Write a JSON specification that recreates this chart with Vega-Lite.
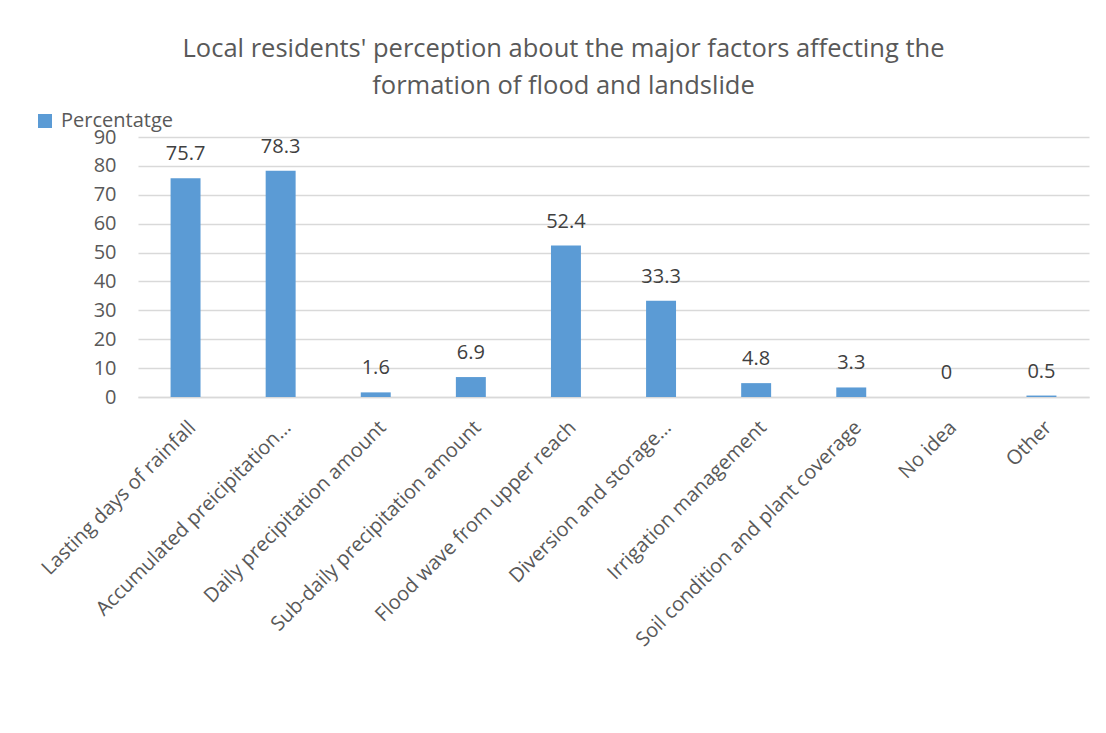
{
  "$schema": "https://vega.github.io/schema/vega-lite/v6.json",
  "autosize": "none",
  "width": 951,
  "height": 260,
  "padding": {"left": 138, "top": 137, "right": 17, "bottom": 336},
  "background": "white",
  "config": {
    "font": "Open Sans",
    "view": {"stroke": null}
  },
  "title": {
    "text": ["Local residents' perception about the major factors affecting the", "formation of flood and landslide"],
    "font": "Open Sans",
    "fontSize": 25.5,
    "fontWeight": "normal",
    "color": "#595959",
    "anchor": "middle",
    "dx": -50,
    "lineHeight": 37,
    "offset": 12
  },
  "data": {
    "values": [
      {"factor": "Lasting days of rainfall", "value": 75.7, "series": "Percentatge"},
      {"factor": "Accumulated preicipitation…", "value": 78.3, "series": "Percentatge"},
      {"factor": "Daily precipitation amount", "value": 1.6, "series": "Percentatge"},
      {"factor": "Sub-daily precipitation amount", "value": 6.9, "series": "Percentatge"},
      {"factor": "Flood wave from upper reach", "value": 52.4, "series": "Percentatge"},
      {"factor": "Diversion and storage…", "value": 33.3, "series": "Percentatge"},
      {"factor": "Irrigation management", "value": 4.8, "series": "Percentatge"},
      {"factor": "Soil condition and plant coverage", "value": 3.3, "series": "Percentatge"},
      {"factor": "No idea", "value": 0, "series": "Percentatge"},
      {"factor": "Other", "value": 0.5, "series": "Percentatge"}
    ]
  },
  "encoding": {
    "x": {
      "field": "factor",
      "type": "nominal",
      "sort": null,
      "scale": {"paddingInner": 0.685, "paddingOuter": 0.3425},
      "axis": {
        "title": null,
        "labelAngle": -45,
        "labelFontSize": 20,
        "labelColor": "#595959",
        "labelPadding": 20,
        "ticks": false,
        "tickSize": 0,
        "domainColor": "#D9D9D9",
        "domainWidth": 1.5,
        "labelLimit": 500
      }
    },
    "y": {
      "field": "value",
      "type": "quantitative",
      "scale": {"domain": [0, 90], "nice": false},
      "axis": {
        "title": null,
        "values": [0, 10, 20, 30, 40, 50, 60, 70, 80, 90],
        "labelFontSize": 20,
        "labelColor": "#595959",
        "labelPadding": 22,
        "ticks": false,
        "tickSize": 0,
        "domain": false,
        "gridColor": "#D9D9D9",
        "gridWidth": 1.5
      }
    }
  },
  "layer": [
    {
      "mark": {"type": "bar", "color": "#5B9BD5"},
      "encoding": {
        "color": {
          "field": "series",
          "type": "nominal",
          "scale": {"range": ["#5B9BD5"]},
          "legend": {
            "title": null,
            "orient": "none",
            "legendX": -103,
            "legendY": -26,
            "symbolType": "square",
            "symbolSize": 196,
            "symbolStrokeWidth": 0,
            "labelFontSize": 20,
            "labelColor": "#595959",
            "labelOffset": 6
          }
        }
      }
    },
    {
      "mark": {"type": "text", "baseline": "middle", "dy": -24, "fontSize": 20, "color": "#404040"},
      "encoding": {
        "text": {"field": "value", "type": "quantitative"}
      }
    }
  ]
}
